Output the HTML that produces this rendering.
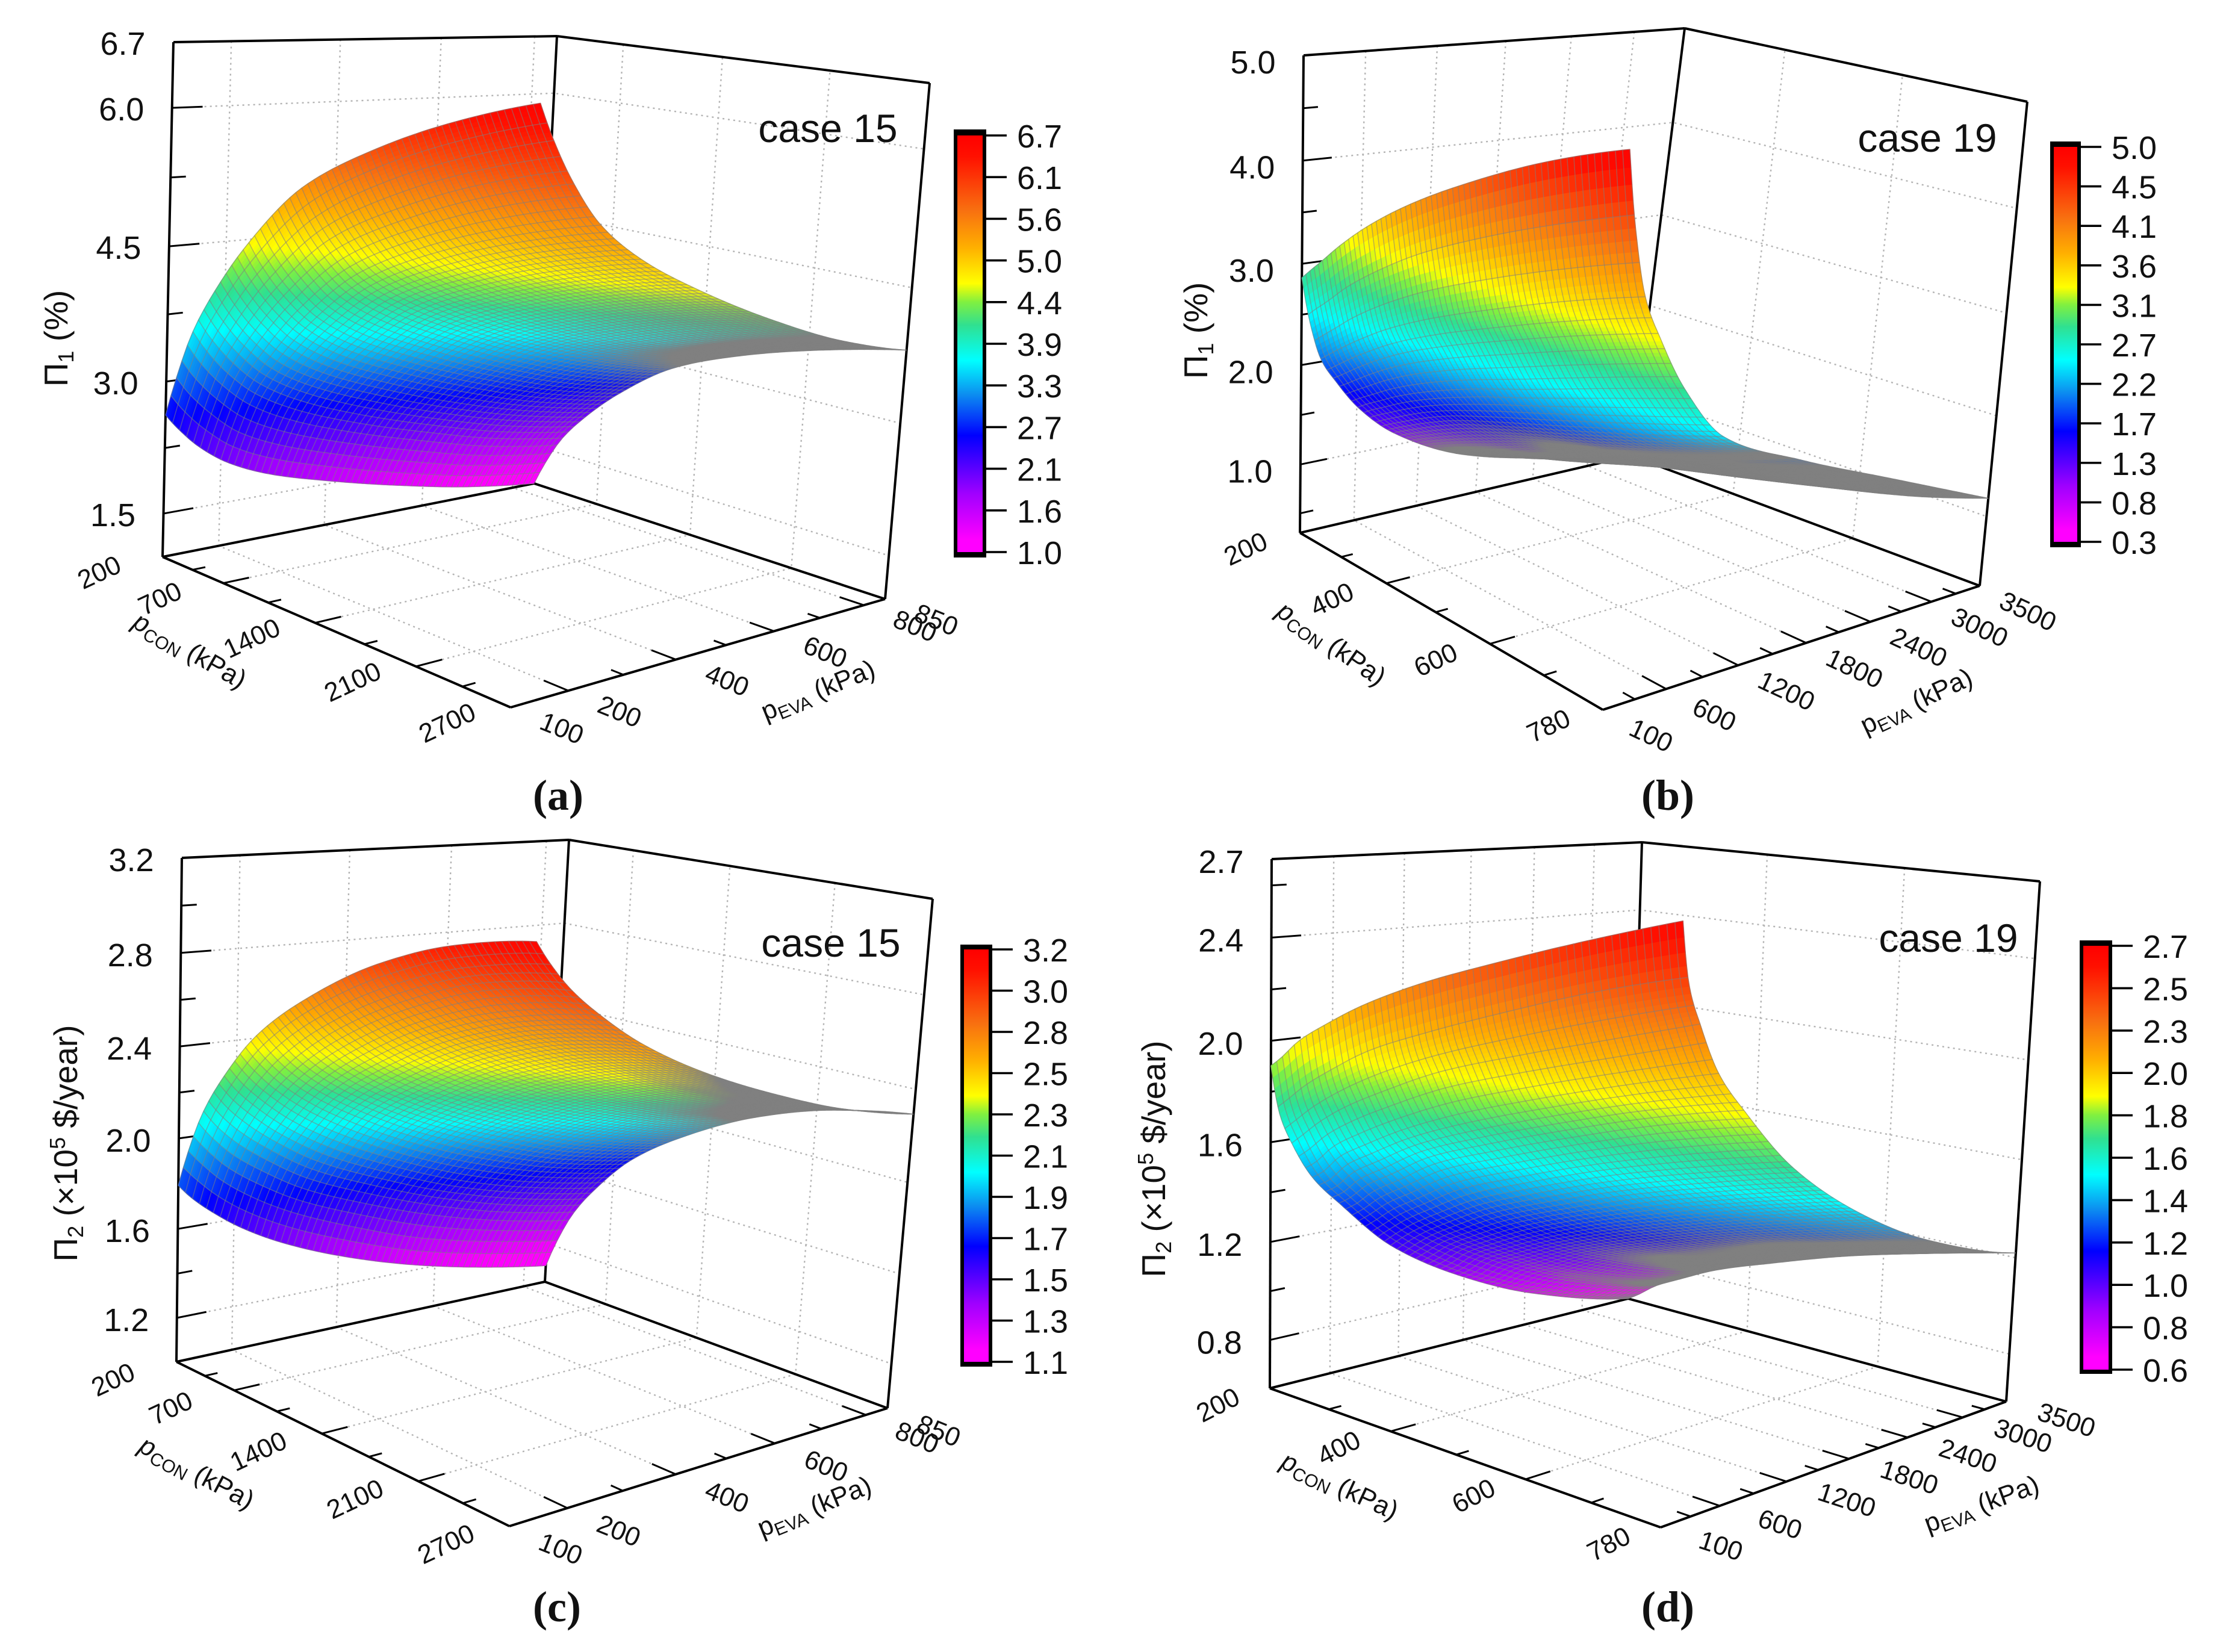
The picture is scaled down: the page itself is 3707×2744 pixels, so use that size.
<!DOCTYPE html>
<html lang="en">
<head>
<meta charset="utf-8">
<title>Response surfaces of Π1 and Π2 for case 15 and case 19</title>
<style>
html,body{margin:0;padding:0;background:#fff;}
svg{display:block;}
text{font-family:"Liberation Sans",sans-serif;fill:#111;}
.panel-letter{font-family:"Liberation Serif",serif;font-weight:bold;font-size:72px;text-anchor:middle;}
.case{font-size:66px;text-anchor:middle;}
.ztitle{font-size:55px;text-anchor:middle;}
.ftitle{font-size:44px;text-anchor:middle;}
</style>
</head>
<body>
<svg id="figure" xmlns="http://www.w3.org/2000/svg" width="3707" height="2744" viewBox="0 0 3707 2744">
  <rect width="3707" height="2744" fill="#fff"/>
  <defs id="defs"></defs>

  <g id="panel-a">
    <g id="marks-a"></g>
    <text class="case" x="1375" y="236">case 15</text>
    <text class="ztitle" transform="translate(112 562) rotate(-90)">Π<tspan font-size="36" dy="10">1</tspan><tspan dy="-10"> (%)</tspan></text>
    <text class="ftitle" transform="translate(308 1093) rotate(30)"><tspan font-style="italic">p</tspan><tspan font-size="30" dy="8">CON</tspan><tspan dy="-8"> (kPa)</tspan></text>
    <text class="ftitle" transform="translate(1364 1160) rotate(-22)">p<tspan font-size="30" dy="8">EVA</tspan><tspan dy="-8"> (kPa)</tspan></text>
    <text class="panel-letter" x="927" y="1345">(a)</text>
  </g>

  <g id="panel-b">
    <g id="marks-b"></g>
    <text class="case" x="3201" y="252">case 19</text>
    <text class="ztitle" transform="translate(2005 549) rotate(-90)">Π<tspan font-size="36" dy="10">1</tspan><tspan dy="-10"> (%)</tspan></text>
    <text class="ftitle" transform="translate(2203 1081) rotate(35)"><tspan font-style="italic">p</tspan><tspan font-size="30" dy="8">CON</tspan><tspan dy="-8"> (kPa)</tspan></text>
    <text class="ftitle" transform="translate(3189 1178) rotate(-25)">p<tspan font-size="30" dy="8">EVA</tspan><tspan dy="-8"> (kPa)</tspan></text>
    <text class="panel-letter" x="2770" y="1345">(b)</text>
  </g>

  <g id="panel-c">
    <g id="marks-c"></g>
    <text class="case" x="1380" y="1589">case 15</text>
    <text class="ztitle" transform="translate(128 1899) rotate(-90)">Π<tspan font-size="36" dy="10">2</tspan><tspan dy="-10"> (×10</tspan><tspan font-size="36" dy="-20">5</tspan><tspan dy="20"> $/year)</tspan></text>
    <text class="ftitle" transform="translate(320 2459) rotate(28)"><tspan font-style="italic">p</tspan><tspan font-size="30" dy="8">CON</tspan><tspan dy="-8"> (kPa)</tspan></text>
    <text class="ftitle" transform="translate(1358 2516) rotate(-22)">p<tspan font-size="30" dy="8">EVA</tspan><tspan dy="-8"> (kPa)</tspan></text>
    <text class="panel-letter" x="925" y="2693">(c)</text>
  </g>

  <g id="panel-d">
    <g id="marks-d"></g>
    <text class="case" x="3236" y="1581">case 19</text>
    <text class="ztitle" transform="translate(1935 1925) rotate(-90)">Π<tspan font-size="36" dy="10">2</tspan><tspan dy="-10"> (×10</tspan><tspan font-size="36" dy="-20">5</tspan><tspan dy="20"> $/year)</tspan></text>
    <text class="ftitle" transform="translate(2219 2481) rotate(25)"><tspan font-style="italic">p</tspan><tspan font-size="30" dy="8">CON</tspan><tspan dy="-8"> (kPa)</tspan></text>
    <text class="ftitle" transform="translate(3296 2512) rotate(-20)">p<tspan font-size="30" dy="8">EVA</tspan><tspan dy="-8"> (kPa)</tspan></text>
    <text class="panel-letter" x="2770" y="2693">(d)</text>
  </g>
</svg>

<script>
// ---------- Panel (a): Π1 (%), case 15 ----------
const aPcon = [200, 275, 400, 575, 825, 1200, 1700, 2200, 2700];
const aPeva = [100, 122, 160, 212, 288, 400, 550, 700, 850];
const aSurface = [
  [2.57, 2.40, 2.16, 1.93, 1.72, 1.52, 1.30, 1.12, 1.00],
  [2.98, 2.79, 2.54, 2.28, 2.06, 1.84, 1.60, 1.40, 1.28],
  [3.55, 3.34, 3.06, 2.78, 2.53, 2.28, 2.02, 1.80, 1.66],
  [4.09, 3.86, 3.55, 3.24, 2.97, 2.70, 2.41, 2.18, 2.02],
  [4.70, 4.45, 4.11, 3.77, 3.47, 3.18, 2.86, 2.60, 2.43],
  [5.40, 5.12, 4.75, 4.37, 4.05, 3.72, 3.37, 3.09, 2.90],
  [5.95, 5.66, 5.25, 4.85, 4.50, 4.15, 3.78, 3.47, 3.27],
  [6.36, 6.05, 5.63, 5.20, 4.84, 4.47, 4.08, 3.75, 3.54],
  [6.67, 6.35, 5.91, 5.47, 5.09, 4.71, 4.30, 3.97, 3.75]
];
const aZLabels = [1.5, 3.0, 4.5, 6.0, 6.7];
const aZMinor = [2.25, 3.75, 5.25];
const aPconLabels = [200, 700, 1400, 2100, 2700];
const aPconMinor = [450, 1050, 1750, 2400];
const aPevaLabels = [100, 200, 400, 600, 800, 850];
const aPevaMinor = [300, 500, 700];
const aBarLabels = [6.7, 6.1, 5.6, 5.0, 4.4, 3.9, 3.3, 2.7, 2.1, 1.6, 1.0];

// ---------- Panel (b): Π1 (%), case 19 ----------
const bPcon = [200, 217, 246, 287, 345, 432, 548, 664, 780];
const bPeva = [100, 168, 270, 406, 610, 950, 1630, 2480, 3500];
const bSurface = [
  [2.81, 2.38, 1.98, 1.73, 1.43, 1.10, 0.73, 0.50, 0.30],
  [2.90, 2.46, 2.05, 1.79, 1.49, 1.15, 0.77, 0.54, 0.33],
  [3.05, 2.59, 2.17, 1.90, 1.58, 1.23, 0.83, 0.58, 0.37],
  [3.27, 2.79, 2.33, 2.05, 1.71, 1.34, 0.91, 0.66, 0.43],
  [3.55, 3.03, 2.54, 2.24, 1.87, 1.48, 1.02, 0.74, 0.50],
  [3.91, 3.35, 2.81, 2.48, 2.08, 1.65, 1.22, 0.89, 0.59],
  [4.32, 3.71, 3.13, 2.77, 2.33, 1.87, 1.43, 1.07, 0.71],
  [4.69, 4.04, 3.44, 3.06, 2.60, 2.11, 1.69, 1.31, 0.89],
  [5.00, 4.35, 3.73, 3.34, 2.88, 2.38, 2.00, 1.61, 1.15]
];
const bZLabels = [1.0, 2.0, 3.0, 4.0, 5.0];
const bZMinor = [0.5, 1.5, 2.5, 3.5, 4.5];
const bPconLabels = [200, 400, 600, 780];
const bPconMinor = [300, 500, 690];
const bPevaLabels = [100, 600, 1200, 1800, 2400, 3000, 3500];
const bPevaMinor = [350, 900, 1500, 2100, 2700, 3250];
const bBarLabels = [5.0, 4.5, 4.1, 3.6, 3.1, 2.7, 2.2, 1.7, 1.3, 0.8, 0.3];

// ---------- Panel (c): Π2 (×10^5 $/year), case 15 ----------
const cPcon = [200, 275, 400, 575, 825, 1200, 1700, 2200, 2700];
const cPeva = [100, 122, 160, 212, 288, 400, 550, 700, 850];
const cSurface = [
  [1.77, 1.71, 1.63, 1.54, 1.44, 1.33, 1.22, 1.14, 1.08],
  [1.92, 1.86, 1.77, 1.68, 1.58, 1.47, 1.35, 1.27, 1.21],
  [2.12, 2.05, 1.96, 1.87, 1.76, 1.65, 1.53, 1.44, 1.38],
  [2.31, 2.24, 2.15, 2.05, 1.94, 1.82, 1.69, 1.60, 1.54],
  [2.52, 2.45, 2.35, 2.25, 2.14, 2.01, 1.88, 1.78, 1.72],
  [2.73, 2.66, 2.56, 2.45, 2.33, 2.20, 2.07, 1.97, 1.90],
  [2.94, 2.86, 2.76, 2.65, 2.53, 2.39, 2.25, 2.15, 2.08],
  [3.08, 3.00, 2.90, 2.78, 2.66, 2.52, 2.38, 2.27, 2.20],
  [3.16, 3.08, 2.97, 2.86, 2.73, 2.59, 2.45, 2.34, 2.27]
];
const cZLabels = [1.2, 1.6, 2.0, 2.4, 2.8, 3.2];
const cZMinor = [1.4, 1.8, 2.2, 2.6, 3.0];
const cPconLabels = [200, 700, 1400, 2100, 2700];
const cPconMinor = [450, 1050, 1750, 2400];
const cPevaLabels = [100, 200, 400, 600, 800, 850];
const cPevaMinor = [300, 500, 700];
const cBarLabels = [3.2, 3.0, 2.8, 2.5, 2.3, 2.1, 1.9, 1.7, 1.5, 1.3, 1.1];

// ---------- Panel (d): Π2 (×10^5 $/year), case 19 ----------
const dPcon = [200, 217, 246, 287, 345, 432, 548, 664, 780];
const dPeva = [100, 168, 270, 440, 678, 1120, 1800, 2480, 3500];
const dSurface = [
  [1.88, 1.69, 1.56, 1.41, 1.28, 1.07, 0.87, 0.73, 0.60],
  [1.92, 1.73, 1.60, 1.44, 1.31, 1.11, 0.90, 0.76, 0.63],
  [2.00, 1.80, 1.67, 1.52, 1.38, 1.17, 0.97, 0.82, 0.69],
  [2.08, 1.88, 1.75, 1.59, 1.45, 1.24, 1.03, 0.88, 0.75],
  [2.18, 1.98, 1.84, 1.68, 1.55, 1.33, 1.11, 0.97, 0.83],
  [2.30, 2.09, 1.96, 1.79, 1.65, 1.43, 1.21, 1.06, 0.92],
  [2.43, 2.22, 2.08, 1.91, 1.77, 1.55, 1.32, 1.17, 1.03],
  [2.55, 2.34, 2.19, 2.02, 1.88, 1.65, 1.42, 1.26, 1.12],
  [2.66, 2.44, 2.30, 2.12, 1.97, 1.74, 1.51, 1.35, 1.20]
];
const dZLabels = [0.8, 1.2, 1.6, 2.0, 2.4, 2.7];
const dZMinor = [1.0, 1.4, 1.8, 2.2, 2.6];
const dPconLabels = [200, 400, 600, 780];
const dPconMinor = [300, 500, 690];
const dPevaLabels = [100, 600, 1200, 1800, 2400, 3000, 3500];
const dPevaMinor = [350, 900, 1500, 2100, 2700, 3250];
const dBarLabels = [2.7, 2.5, 2.3, 2.0, 1.8, 1.6, 1.4, 1.2, 1.0, 0.8, 0.6];

// ---------- Colour scale (fraction of range, colour) ----------
const colorFractions = [0, 0.03, 0.14, 0.28, 0.38, 0.46, 0.545, 0.60, 0.645, 0.73, 0.82, 0.95, 1];
const colorHexes = ['#ff00ff', '#ff00ff', '#a000ff', '#0000ff', '#0c90f0', '#00ffff', '#30e090', '#80f040', '#ffff00', '#ffb000', '#f87010', '#ff1000', '#ff0000'];

const SVGNS = 'http://www.w3.org/2000/svg';
const MESH = 60;
const FINE = 4;

function mk(parent, tag, attrs) {
  const el = document.createElementNS(SVGNS, tag);
  for (const k in attrs) el.setAttribute(k, attrs[k]);
  parent.appendChild(el);
  return el;
}
function hexRgb(h) {
  return [parseInt(h.slice(1, 3), 16), parseInt(h.slice(3, 5), 16), parseInt(h.slice(5, 7), 16)];
}
// colour for a fraction of the range; dense mesh wires tint it towards their grey
function colorAt(f, mix) {
  f = Math.max(0, Math.min(1, f));
  let i = 0;
  while (i < colorFractions.length - 2 && f > colorFractions[i + 1]) i++;
  const k = (f - colorFractions[i]) / (colorFractions[i + 1] - colorFractions[i]);
  const a = hexRgb(colorHexes[i]), b = hexRgb(colorHexes[i + 1]);
  const ch = n => Math.round((a[n] + (b[n] - a[n]) * k) * (1 - mix) + 128 * mix);
  return 'rgb(' + ch(0) + ',' + ch(1) + ',' + ch(2) + ')';
}
// shape-preserving cubic through the read-off grid values (used only to shade the fine mesh)
function pchip(xs, ys, x) {
  const n = xs.length;
  let i = 0;
  while (i < n - 2 && x > xs[i + 1]) i++;
  const slope = j => (ys[j + 1] - ys[j]) / (xs[j + 1] - xs[j]);
  const tan = j => {
    if (j === 0 || j === n - 1) {
      const k = j === 0 ? 0 : n - 2;
      const o = j === 0 ? 1 : n - 3;
      const h0 = xs[k + 1] - xs[k], h1 = xs[o + 1] - xs[o];
      const m = ((2 * h0 + h1) * slope(k) - h0 * slope(o)) / (h0 + h1);
      return m * slope(k) <= 0 ? 0 : m;
    }
    const a = slope(j - 1), b = slope(j);
    if (a * b <= 0) return 0;
    const h0 = xs[j] - xs[j - 1], h1 = xs[j + 1] - xs[j];
    return 3 * (h0 + h1) / ((h0 + 2 * h1) / a + (2 * h0 + h1) / b);
  };
  const h = xs[i + 1] - xs[i], t = (x - xs[i]) / h;
  const m0 = tan(i), m1 = tan(i + 1);
  const t2 = t * t, t3 = t2 * t;
  return (2 * t3 - 3 * t2 + 1) * ys[i] + (t3 - 2 * t2 + t) * h * m0 + (-2 * t3 + 3 * t2) * ys[i + 1] + (t3 - t2) * h * m1;
}
function det(a, b) { return a[0] * b[1] - a[1] * b[0]; }

function buildPanel(p) {
  const root = document.getElementById(p.id);
  const L = p.L, F = p.F, R = p.R, B = p.B;
  const sum = [L[0] - F[0] + R[0] - B[0], L[1] - F[1] + R[1] - B[1]];
  const d1 = [F[0] - R[0], F[1] - R[1]], d2 = [B[0] - R[0], B[1] - R[1]];
  const dd = det(d1, d2);
  const g = det(sum, d2) / dd, h = det(d1, sum) / dd;
  const wF = 1 + g, wB = 1 + h, wR = 1 + g + h;
  const vec = (a, b) => [a[0] - b[0], a[1] - b[1]];
  const HL = vec(p.topL, L), HF = vec(p.topF, F), HR = vec(p.topR, R), HB = vec(p.topB, B);

  // axis functions
  const uOf = v => (v - p.pconMin) / (p.pconMax - p.pconMin);
  const vOf = v => (v - p.pevaMin) / (p.pevaMax - p.pevaMin);
  const tOf = z => (z - p.zMin) / (p.zMax - p.zMin);
  // the printed z ticks sag slightly below a straight scale on the wall
  const tTick = z => { const t = tOf(z); return t - 0.045 * t * (1 - t); };
  function project(u, v, t) {
    const w = g * u + h * v + 1;
    const out = [0, 0];
    for (let k = 0; k < 2; k++) {
      const floor = ((F[k] * wF - L[k]) * u + (B[k] * wB - L[k]) * v + L[k]) / w;
      const ht = ((1 - u) * (1 - v) * HL[k] + u * (1 - v) * HF[k] * wF + u * v * HR[k] * wR + (1 - u) * v * HB[k] * wB) / w;
      out[k] = floor + t * ht;
    }
    return out;
  }
  const fmt = q => q[0].toFixed(1) + ' ' + q[1].toFixed(1);

  // grid lines
  const grid = mk(root, 'g', {fill: 'none', stroke: '#b4b4b4', 'stroke-width': 2.4, 'stroke-dasharray': '3 6'});
  
  
  function gridPath(pts, name) {
    const el = mk(grid, 'path', {d: 'M' + pts.map(fmt).join('L')});
    
    
  }
  p.zLabels.forEach(z => {
    const t = tTick(z);
    if (t < 0.99) gridPath([project(0, 0, t), project(0, 1, t), project(1, 1, t)], 'z-grid-line');
  });
  p.pevaLabels.forEach(val => {
    const v = vOf(val);
    if (v > 0.001 && v < 0.999) {
      gridPath([project(0, v, 1), project(0, v, 0), project(1, v, 0)], 'peva-grid-line');
    }
  });
  p.pconLabels.forEach(val => {
    const u = uOf(val);
    if (u > 0.001 && u < 0.999) {
      gridPath([project(u, 0, 0), project(u, 1, 0), project(u, 1, 1)], 'pcon-grid-line');
    }
  });

  // frame
  const frame = mk(root, 'g', {fill: 'none', stroke: '#000', 'stroke-width': 4, 'stroke-linejoin': 'miter'});
  
  
  const edges = [
    [[0, 0, 0], [0, 0, 1]], [[0, 0, 1], [0, 1, 1]], [[0, 1, 1], [1, 1, 1]], [[1, 1, 1], [1, 1, 0]],
    [[0, 1, 0], [0, 1, 1]], [[0, 0, 0], [0, 1, 0]], [[0, 1, 0], [1, 1, 0]], [[0, 0, 0], [1, 0, 0]], [[1, 0, 0], [1, 1, 0]]
  ];
  edges.forEach(e => {
    const a = project(e[0][0], e[0][1], e[0][2]), b = project(e[1][0], e[1][1], e[1][2]);
    const seg = mk(frame, 'line', {x1: a[0], y1: a[1], x2: b[0], y2: b[1]});
    
    
  });

  // ticks and tick labels
  const ticks = mk(root, 'g', {stroke: '#000', 'stroke-width': 3});
  
  
  function tick(a, b, name) {
    const el = mk(ticks, 'line', {x1: a[0], y1: a[1], x2: b[0], y2: b[1]});
    
    
  }
  function label(text, x, y, size, rot, name) {
    const el = mk(root, 'text', {
      'text-anchor': 'middle', 'dominant-baseline': 'central', 'font-size': size,
      transform: 'translate(' + x.toFixed(1) + ' ' + y.toFixed(1) + ') rotate(' + rot + ')'
    });
    el.textContent = text;
    
    
  }
  p.zLabels.forEach(z => {
    const t = tTick(z), a = project(0, 0, t);
    if (t < 0.99) tick(a, project(0, 0.07, t), 'z-major-tick');
    label(z.toFixed(1), a[0] - 84, a[1] + p.zLabelDy, 54, 0, 'z-tick-label');
  });
  p.zMinor.forEach(z => {
    const t = tTick(z);
    tick(project(0, 0, t), project(0, 0.035, t), 'z-minor-tick');
  });
  p.pconLabels.forEach(val => {
    const u = uOf(val), a = project(u, 0, 0);
    if (u > 0.001 && u < 0.999) tick(a, project(u, 0.06, 0), 'pcon-major-tick');
    label(String(val), a[0] + p.pconOff[0], a[1] + p.pconOff[1], 44, p.pconRot, 'pcon-tick-label');
  });
  p.pconMinor.forEach(val => {
    const u = uOf(val);
    tick(project(u, 0, 0), project(u, 0.03, 0), 'pcon-minor-tick');
  });
  p.pevaLabels.forEach(val => {
    const v = vOf(val), a = project(1, v, 0);
    if (v > 0.001 && v < 0.999) tick(a, project(0.94, v, 0), 'peva-major-tick');
    label(String(val), a[0] + p.pevaOff[0], a[1] + p.pevaOff[1], 44, p.pevaRot, 'peva-tick-label');
  });
  p.pevaMinor.forEach(val => {
    const v = vOf(val);
    tick(project(1, v, 0), project(0.97, v, 0), 'peva-minor-tick');
  });

  // surface: the read-off grid drawn as a fine shaded mesh
  const pconAxis = [], pevaAxis = [];
  for (let i = 0; i <= MESH; i++) pconAxis.push(p.pconMin + (p.pconMax - p.pconMin) * i / MESH);
  for (let k = 0; k <= MESH * FINE; k++) pevaAxis.push(p.pevaMin + (p.pevaMax - p.pevaMin) * k / (MESH * FINE));
  const rowsAtV = p.surface.map(row => pevaAxis.map(v => pchip(p.peva, row, v)));
  const zs = pconAxis.map(u => pevaAxis.map((_, k) => pchip(p.pcon, rowsAtV.map(r => r[k]), u)));
  const pts = zs.map((col, i) => col.map((z, k) => project(i / MESH, k / (MESH * FINE), tOf(z))));

  const surface = mk(root, 'g', {});
  
  
  for (let i = 0; i < MESH; i++) {
    for (let j = MESH - 1; j >= 0; j--) {
      // wire density of this mesh cell on screen sets how grey it looks
      const k0 = j * FINE;
      const e1 = [pts[i + 1][k0][0] - pts[i][k0][0], pts[i + 1][k0][1] - pts[i][k0][1]];
      const e2 = [pts[i][k0 + FINE][0] - pts[i][k0][0], pts[i][k0 + FINE][1] - pts[i][k0][1]];
      const area = Math.max(Math.abs(det(e1, e2)), 0.01);
      const density = (Math.hypot(e1[0], e1[1]) + Math.hypot(e2[0], e2[1])) / area;
      const mix = Math.max(0, Math.min(1, (density - p.greyFrom) / 0.4));
      // the steep low-peva band gets finer colour steps
      const step = j < 15 ? 1 : FINE;
      for (let k = k0 + FINE - step; k >= k0; k -= step) {
        const zc = (zs[i][k] + zs[i + 1][k] + zs[i][k + step] + zs[i + 1][k + step]) / 4;
        const col = colorAt((zc - p.cMin) / (p.cMax - p.cMin), mix);
        const cell = mk(surface, 'path', {
          d: 'M' + fmt(pts[i][k]) + 'L' + fmt(pts[i + 1][k]) + 'L' + fmt(pts[i + 1][k + step]) + 'L' + fmt(pts[i][k + step]) + 'Z',
          fill: col, stroke: col, 'stroke-width': 1
        });
        
        
      }
    }
  }
  const mesh = mk(root, 'g', {fill: 'none', stroke: '#808080', 'stroke-width': 1.5, 'stroke-opacity': 0.55});
  
  
  for (let i = 0; i <= MESH; i++) {
    const a = mk(mesh, 'path', {d: 'M' + pts[i].map(fmt).join('L')});
    
    
    const b = mk(mesh, 'path', {d: 'M' + pts.map(c => fmt(c[i * FINE])).join('L')});
    
    
  }

  // colour bar
  const bar = mk(root, 'g', {});
  
  
  const gradId = 'grad-' + p.id;
  const defs = document.getElementById('defs');
  const grad = mk(defs, 'linearGradient', {id: gradId, x1: 0, y1: 1, x2: 0, y2: 0});
  colorFractions.forEach((f, i) => mk(grad, 'stop', {offset: f, 'stop-color': colorHexes[i]}));
  const box = mk(bar, 'rect', {x: p.barX, y: p.barTop, width: p.barW, height: p.barBottom - p.barTop, fill: '#000'});
  
  
  const ramp = mk(bar, 'rect', {x: p.barX + 6, y: p.barTickTop, width: p.barW - 12, height: p.barTickBottom - p.barTickTop, fill: 'url(#' + gradId + ')'});
  
  
  // the printed labels are rounded values of evenly spaced levels
  p.barLabels.forEach((val, i) => {
    const y = p.barTickTop + (p.barTickBottom - p.barTickTop) * i / (p.barLabels.length - 1);
    const t = mk(bar, 'line', {x1: p.barX + p.barW, x2: p.barX + p.barW + 34, y1: y, y2: y, stroke: '#000', 'stroke-width': 3.6});
    
    
    const lab = mk(bar, 'text', {x: p.barX + p.barW + 51, y: y + 2, 'font-size': 54, 'dominant-baseline': 'central'});
    lab.textContent = val.toFixed(1);
    
    
  });
}

buildPanel({
  id: 'marks-a', pcon: aPcon, peva: aPeva, surface: aSurface,
  zLabels: aZLabels, zMinor: aZMinor, pconLabels: aPconLabels, pconMinor: aPconMinor,
  pevaLabels: aPevaLabels, pevaMinor: aPevaMinor, barLabels: aBarLabels,
  pconMin: 200, pconMax: 2700, pevaMin: 100, pevaMax: 850, zMin: 1.0, zMax: 6.7, cMin: 1.0, cMax: 6.7,
  L: [270, 925], F: [848, 1175], R: [1470, 995], B: [887, 803],
  topL: [288, 70], topF: [898, 166], topR: [1544, 138], topB: [925, 60],
  pconOff: [-105, 26], pevaOff: [85, 35], pconRot: -25, pevaRot: 22,
  zLabelDy: 3, greyFrom: 0.34,
  barX: 1584, barW: 54, barTop: 215, barBottom: 926, barTickTop: 225, barTickBottom: 917
});
buildPanel({
  id: 'marks-b', pcon: bPcon, peva: bPeva, surface: bSurface,
  zLabels: bZLabels, zMinor: bZMinor, pconLabels: bPconLabels, pconMinor: bPconMinor,
  pevaLabels: bPevaLabels, pevaMinor: bPevaMinor, barLabels: bBarLabels,
  pconMin: 200, pconMax: 780, pevaMin: 100, pevaMax: 3500, zMin: 0.3, zMax: 5.0, cMin: 0.3, cMax: 5.0,
  L: [2159, 885], F: [2662, 1179], R: [3288, 973], B: [2709, 757],
  topL: [2165, 92], topF: [2707, 248], topR: [3367, 169], topB: [2798, 47],
  pconOff: [-90, 27], pevaOff: [80, 43], pconRot: -25, pevaRot: 25,
  zLabelDy: 12, greyFrom: 0.3,
  barX: 3405, barW: 51, barTop: 235, barBottom: 909, barTickTop: 244, barTickBottom: 900
});
buildPanel({
  id: 'marks-c', pcon: cPcon, peva: cPeva, surface: cSurface,
  zLabels: cZLabels, zMinor: cZMinor, pconLabels: cPconLabels, pconMinor: cPconMinor,
  pevaLabels: cPevaLabels, pevaMinor: cPevaMinor, barLabels: cBarLabels,
  pconMin: 200, pconMax: 2700, pevaMin: 100, pevaMax: 850, zMin: 1.0, zMax: 3.2, cMin: 1.1, cMax: 3.2,
  L: [293, 2262], F: [846, 2535], R: [1474, 2339], B: [905, 2129],
  topL: [302, 1425], topF: [892, 1546], topR: [1549, 1493], topB: [945, 1395],
  pconOff: [-105, 30], pevaOff: [85, 38], pconRot: -25, pevaRot: 22,
  zLabelDy: 4, greyFrom: 0.45,
  barX: 1595, barW: 53, barTop: 1569, barBottom: 2270, barTickTop: 1577, barTickBottom: 2262
});
buildPanel({
  id: 'marks-d', pcon: dPcon, peva: dPeva, surface: dSurface,
  zLabels: dZLabels, zMinor: dZMinor, pconLabels: dPconLabels, pconMinor: dPconMinor,
  pevaLabels: dPevaLabels, pevaMinor: dPevaMinor, barLabels: dBarLabels,
  pconMin: 200, pconMax: 780, pevaMin: 100, pevaMax: 3500, zMin: 0.6, zMax: 2.7, cMin: 0.6, cMax: 2.7,
  L: [2109, 2306], F: [2758, 2537], R: [3332, 2328], B: [2704, 2157],
  topL: [2112, 1427], topF: [2796, 1510], topR: [3388, 1464], topB: [2727, 1399],
  pconOff: [-86, 28], pevaOff: [100, 31], pconRot: -27, pevaRot: 18,
  zLabelDy: 5, greyFrom: 0.33,
  barX: 3454, barW: 54, barTop: 1562, barBottom: 2282, barTickTop: 1571, barTickBottom: 2275
});
</script>
</body>
</html>
